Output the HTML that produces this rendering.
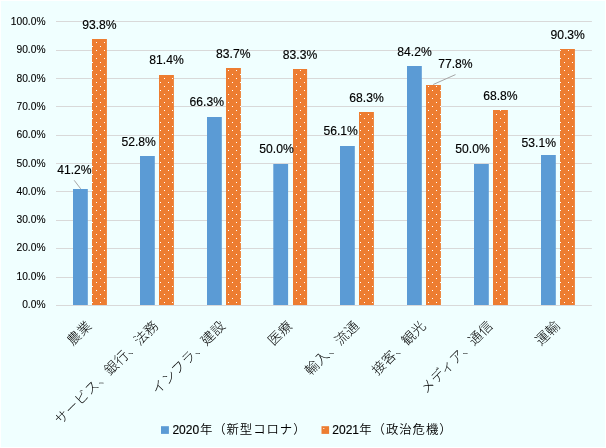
<!DOCTYPE html>
<html lang="ja"><head><meta charset="utf-8"><title>chart</title>
<style>
html,body{margin:0;padding:0;background:#fff;}
body{width:606px;height:448px;overflow:hidden;}
svg{display:block}
text{font-family:"Liberation Sans","Noto Sans CJK JP",sans-serif;fill:#000}
.ax{font-size:11.4px;text-anchor:end;stroke:#000;stroke-width:0.12px}
.dl{font-size:12px;text-anchor:middle;stroke:#000;stroke-width:0.15px}
.cat{font-size:13.6px;text-anchor:end;font-weight:300}
.lg{font-size:12px;stroke:#000;stroke-width:0.15px}
.lg .j{font-size:12.4px;letter-spacing:0.93px;stroke:none;font-weight:350}
</style></head><body>
<svg width="606" height="448" viewBox="0 0 606 448">
<defs><pattern id="dots" x="0" y="0" width="8" height="8" patternUnits="userSpaceOnUse">
<rect x="0" y="0" width="8" height="8" fill="#ed7d31"/>
<rect x="0" y="2" width="1" height="1" fill="#fff"/>
<rect x="4" y="6" width="1" height="1" fill="#fff"/>
</pattern></defs>
<rect x="0" y="0" width="606" height="448" fill="#fff"/>
<rect x="1" y="1" width="604" height="446" fill="#f0ffff"/>

<line x1="56" y1="305.5" x2="591.9" y2="305.5" stroke="#d9d9d9" stroke-width="1"/>
<text class="ax" transform="translate(45.5,307.90) scale(0.9,1)">0.0%</text>
<line x1="56" y1="277.5" x2="591.9" y2="277.5" stroke="#d9d9d9" stroke-width="1"/>
<text class="ax" transform="translate(45.5,279.62) scale(0.9,1)">10.0%</text>
<line x1="56" y1="248.5" x2="591.9" y2="248.5" stroke="#d9d9d9" stroke-width="1"/>
<text class="ax" transform="translate(45.5,251.34) scale(0.9,1)">20.0%</text>
<line x1="56" y1="220.5" x2="591.9" y2="220.5" stroke="#d9d9d9" stroke-width="1"/>
<text class="ax" transform="translate(45.5,223.06) scale(0.9,1)">30.0%</text>
<line x1="56" y1="191.5" x2="591.9" y2="191.5" stroke="#d9d9d9" stroke-width="1"/>
<text class="ax" transform="translate(45.5,194.78) scale(0.9,1)">40.0%</text>
<line x1="56" y1="163.5" x2="591.9" y2="163.5" stroke="#d9d9d9" stroke-width="1"/>
<text class="ax" transform="translate(45.5,166.50) scale(0.9,1)">50.0%</text>
<line x1="56" y1="135.5" x2="591.9" y2="135.5" stroke="#d9d9d9" stroke-width="1"/>
<text class="ax" transform="translate(45.5,138.22) scale(0.9,1)">60.0%</text>
<line x1="56" y1="106.5" x2="591.9" y2="106.5" stroke="#d9d9d9" stroke-width="1"/>
<text class="ax" transform="translate(45.5,109.94) scale(0.9,1)">70.0%</text>
<line x1="56" y1="78.5" x2="591.9" y2="78.5" stroke="#d9d9d9" stroke-width="1"/>
<text class="ax" transform="translate(45.5,81.66) scale(0.9,1)">80.0%</text>
<line x1="56" y1="50.5" x2="591.9" y2="50.5" stroke="#d9d9d9" stroke-width="1"/>
<text class="ax" transform="translate(45.5,53.38) scale(0.9,1)">90.0%</text>
<line x1="56" y1="21.5" x2="591.9" y2="21.5" stroke="#d9d9d9" stroke-width="1"/>
<text class="ax" transform="translate(45.5,25.10) scale(0.9,1)">100.0%</text>
<rect x="73" y="189" width="14.8" height="116" fill="#5b9bd5"/>
<rect x="92" y="39" width="14.9" height="266" fill="url(#dots)"/>
<rect x="140" y="156" width="14.8" height="149" fill="#5b9bd5"/>
<rect x="159" y="75" width="14.9" height="230" fill="url(#dots)"/>
<rect x="207" y="117" width="14.8" height="188" fill="#5b9bd5"/>
<rect x="226" y="68" width="14.9" height="237" fill="url(#dots)"/>
<rect x="273.3" y="164" width="14.8" height="141" fill="#5b9bd5"/>
<rect x="293" y="69" width="14.1" height="236" fill="url(#dots)"/>
<rect x="340" y="146" width="14.8" height="159" fill="#5b9bd5"/>
<rect x="359" y="112" width="14.9" height="193" fill="url(#dots)"/>
<rect x="407" y="66" width="14.8" height="239" fill="#5b9bd5"/>
<rect x="426" y="85" width="14.9" height="220" fill="url(#dots)"/>
<rect x="474" y="164" width="14.8" height="141" fill="#5b9bd5"/>
<rect x="493" y="110" width="14.9" height="195" fill="url(#dots)"/>
<rect x="541" y="155" width="14.8" height="150" fill="#5b9bd5"/>
<rect x="560" y="49" width="14.9" height="256" fill="url(#dots)"/>
<text class="dl" textLength="34.4" lengthAdjust="spacingAndGlyphs" x="74.4" y="174">41.2%</text>
<text class="dl" textLength="34.4" lengthAdjust="spacingAndGlyphs" x="99.4" y="28.8">93.8%</text>
<text class="dl" textLength="34.4" lengthAdjust="spacingAndGlyphs" x="138.6" y="145.9">52.8%</text>
<text class="dl" textLength="34.4" lengthAdjust="spacingAndGlyphs" x="166.5" y="63.6">81.4%</text>
<text class="dl" textLength="34.4" lengthAdjust="spacingAndGlyphs" x="206.8" y="106.0">66.3%</text>
<text class="dl" textLength="34.4" lengthAdjust="spacingAndGlyphs" x="233.3" y="57.6">83.7%</text>
<text class="dl" textLength="34.4" lengthAdjust="spacingAndGlyphs" x="276.5" y="152.7">50.0%</text>
<text class="dl" textLength="34.4" lengthAdjust="spacingAndGlyphs" x="300" y="58.7">83.3%</text>
<text class="dl" textLength="34.4" lengthAdjust="spacingAndGlyphs" x="340.7" y="135.3">56.1%</text>
<text class="dl" textLength="34.4" lengthAdjust="spacingAndGlyphs" x="366.5" y="101.6">68.3%</text>
<text class="dl" textLength="34.4" lengthAdjust="spacingAndGlyphs" x="414.5" y="56">84.2%</text>
<text class="dl" textLength="34.4" lengthAdjust="spacingAndGlyphs" x="455.4" y="67.6">77.8%</text>
<text class="dl" textLength="34.4" lengthAdjust="spacingAndGlyphs" x="472.5" y="152.7">50.0%</text>
<text class="dl" textLength="34.4" lengthAdjust="spacingAndGlyphs" x="500.4" y="99.8">68.8%</text>
<text class="dl" textLength="34.4" lengthAdjust="spacingAndGlyphs" x="538.8" y="146.6">53.1%</text>
<text class="dl" textLength="34.4" lengthAdjust="spacingAndGlyphs" x="567.6" y="38.6">90.3%</text>
<line x1="74.2" y1="180.3" x2="80.7" y2="188.8" stroke="#a6a6a6" stroke-width="1"/>
<line x1="433.2" y1="84.5" x2="455.5" y2="74.6" stroke="#a6a6a6" stroke-width="1"/>
<text class="cat" transform="translate(92.6,326.5) rotate(-45)" letter-spacing="0.4">農業</text>
<text class="cat" transform="translate(159.5,326.5) rotate(-45)" letter-spacing="0.4">サービス、銀行、法務</text>
<text class="cat" transform="translate(226.4,326.5) rotate(-45)" letter-spacing="0.4">インフラ、建設</text>
<text class="cat" transform="translate(293.3,326.5) rotate(-45)" letter-spacing="0.4">医療</text>
<text class="cat" transform="translate(360.1,326.5) rotate(-45)" letter-spacing="0.4">輸入、流通</text>
<text class="cat" transform="translate(427.0,326.5) rotate(-45)" letter-spacing="0.4">接客、観光</text>
<text class="cat" transform="translate(493.9,326.5) rotate(-45)" letter-spacing="0.4">メディア、通信</text>
<text class="cat" transform="translate(560.8,326.5) rotate(-45)" letter-spacing="0.4">運輸</text>
<rect x="161" y="426.2" width="7.9" height="7.7" fill="#5b9bd5"/>
<text class="lg" x="172.4" y="433.7">2020<tspan class="j" dx="0.8">年（新型コロナ）</tspan></text>
<rect x="321.5" y="426.2" width="7.6" height="7.7" fill="#ed7d31"/><rect x="323.3" y="428" width="1" height="1" fill="#fff"/>
<text class="lg" x="332.3" y="433.7">2021<tspan class="j" dx="0.3">年（政治危機）</tspan></text>
</svg></body></html>
